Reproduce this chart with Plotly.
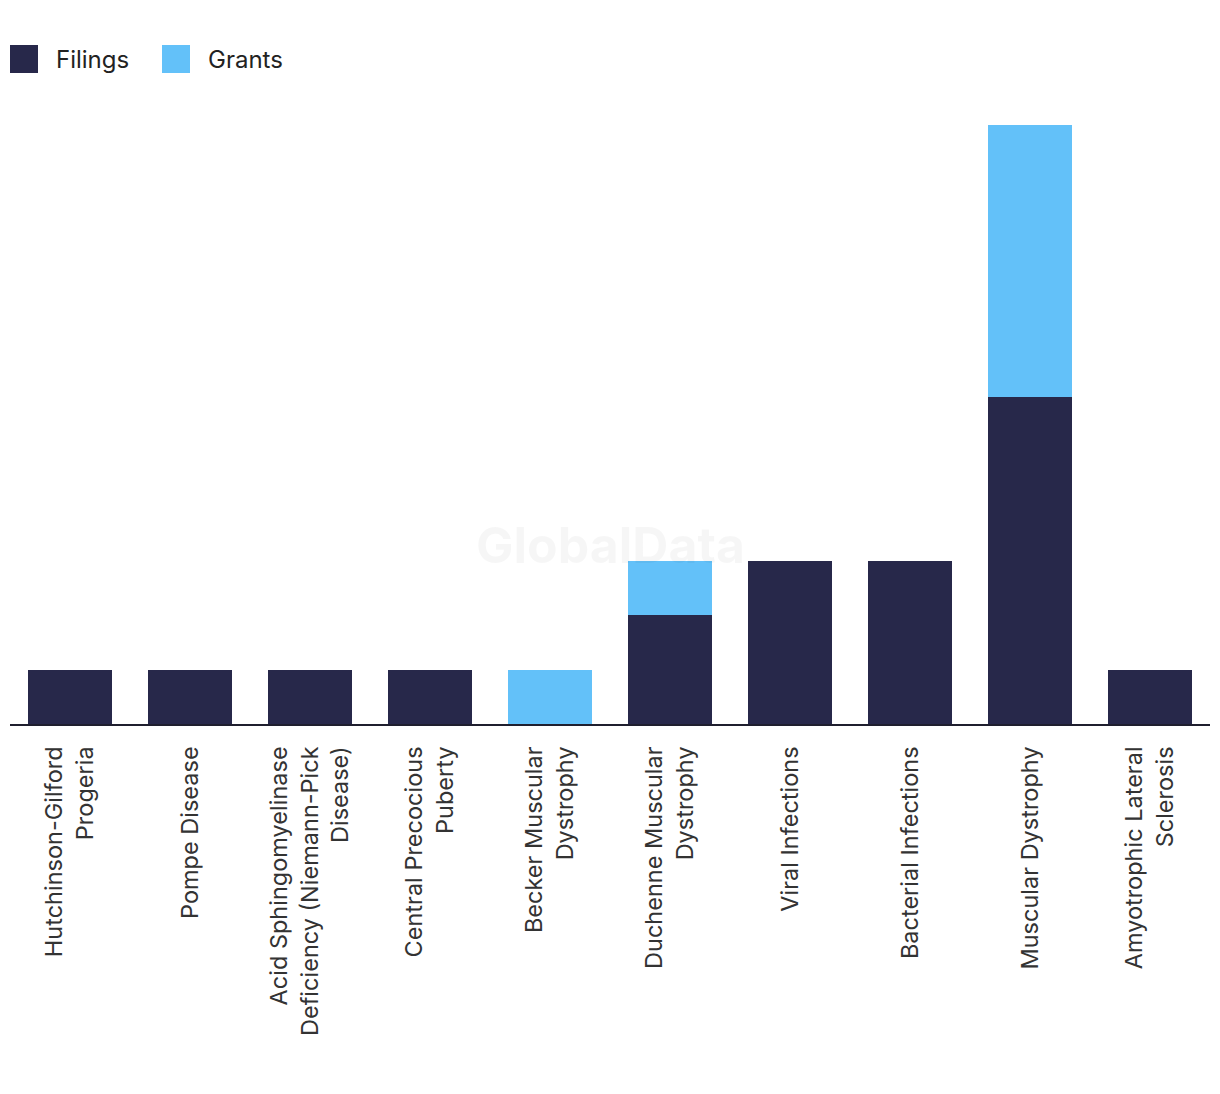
import plotly.graph_objects as go

categories = [
    "Hutchinson-Gilford<br>Progeria",
    "Pompe Disease",
    "Acid Sphingomyelinase<br>Deficiency (Niemann-Pick<br>Disease)",
    "Central Precocious<br>Puberty",
    "Becker Muscular<br>Dystrophy",
    "Duchenne Muscular<br>Dystrophy",
    "Viral Infections",
    "Bacterial Infections",
    "Muscular Dystrophy",
    "Amyotrophic Lateral<br>Sclerosis",
]
filings = [1, 1, 1, 1, 0, 2, 3, 3, 6, 1]
grants = [0, 0, 0, 0, 1, 1, 0, 0, 5, 0]
series_names = ["Filings", "Grants"]
colors = ["#27284A", "#63C1F9"]

FONT = "Inter, Roboto, Arial, sans-serif"

fig = go.Figure()
fig.add_trace(go.Bar(x=categories, y=filings, name=series_names[0],
                     marker=dict(color=colors[0], line=dict(width=0))))
fig.add_trace(go.Bar(x=categories, y=grants, name=series_names[1],
                     marker=dict(color=colors[1], line=dict(width=0))))

PLOT_H = 624
fig.update_layout(
    barmode="stack",
    bargap=0.3,
    width=1220,
    height=1094,
    margin=dict(l=2, r=18, t=92, b=378),
    plot_bgcolor="white",
    paper_bgcolor="white",
    showlegend=False,
    font=dict(family=FONT, color="#333333"),
)
fig.update_xaxes(
    showline=True, linecolor="#1f1f2e", linewidth=2,
    showgrid=False, ticks="", tickangle=-90,
    tickfont=dict(size=23.5, color="#333333", family=FONT),
    ticklabelstandoff=11,
)
fig.update_yaxes(visible=False, range=[0, 11.45], showgrid=False)

# watermark
fig.add_annotation(text="<b>GlobalData</b>", x=0.5, y=0.235, xref="paper", yref="paper",
                   showarrow=False, font=dict(size=50, color="rgba(0,0,0,0.035)", family=FONT))

# custom legend
legend_items = [(10, series_names[0], colors[0]), (162, series_names[1], colors[1])]
for x0, name, c in legend_items:
    fig.add_shape(type="rect", xref="paper", yref="paper",
                  x0=(x0 - 10) / 1200, x1=(x0 + 28 - 10) / 1200,
                  y0=1 + (100 - 73) / PLOT_H, y1=1 + (100 - 45) / PLOT_H,
                  fillcolor=c, line=dict(width=0))
    fig.add_annotation(text=name, xref="paper", yref="paper",
                       x=(x0 + 44 - 10) / 1200, y=1 + (100 - 59) / PLOT_H,
                       xanchor="left", yanchor="middle", showarrow=False,
                       font=dict(size=24, color="#222222", family=FONT))

fig.write_html("out.html")
